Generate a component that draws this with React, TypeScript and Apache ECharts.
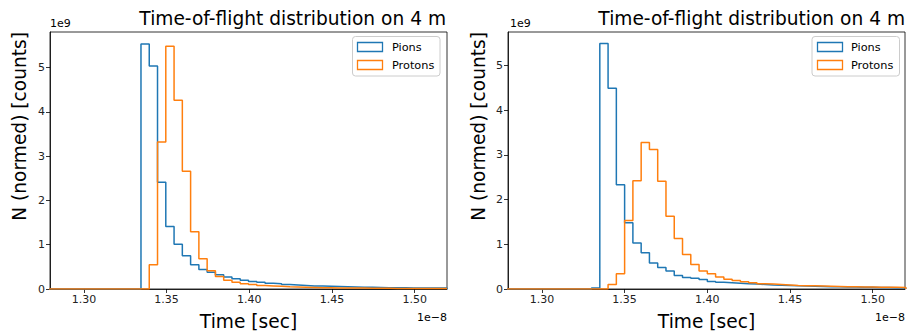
import React, { useEffect, useRef } from "react";
import * as echarts from "echarts";

// Time axis in units of 1e-8 s, counts in units of 1e9
const xTicks = [1.3, 1.35, 1.4, 1.45, 1.5];
const yTicks = [0, 1, 2, 3, 4, 5];
const binWidth = 0.005;

// Left panel
const leftPionStart = 1.3345;
const leftPions = [
  5.53, 5.03, 2.41, 1.41, 1.01, 0.75, 0.55, 0.44, 0.38, 0.32, 0.27, 0.23, 0.2, 0.17, 0.15, 0.13,
  0.12, 0.1, 0.09, 0.08, 0.07, 0.065, 0.06, 0.055, 0.05, 0.045, 0.04, 0.04, 0.035, 0.03, 0.03,
  0.03, 0.025, 0.025, 0.02, 0.02, 0.02,
];
const leftProtonStart = 1.3395;
const leftProtons = [
  0.55, 3.32, 5.48, 4.26, 2.66, 1.29, 0.68, 0.41, 0.28, 0.2, 0.15, 0.12, 0.1, 0.08, 0.07, 0.06,
  0.05, 0.045, 0.04, 0.035, 0.03, 0.03, 0.025, 0.02, 0.02, 0.02, 0.015, 0.015, 0.015, 0.012,
  0.012, 0.01, 0.01, 0.01, 0.01, 0.01,
];

// Right panel
const rightPionStart = 1.33;
const rightPions = [
  0.02, 5.49, 4.49, 2.33, 1.48, 1.03, 0.81, 0.58, 0.48, 0.4, 0.3, 0.26, 0.24, 0.21, 0.17, 0.15,
  0.14, 0.13, 0.12, 0.11, 0.1, 0.09, 0.085, 0.08, 0.07, 0.065, 0.06, 0.055, 0.05, 0.05, 0.045,
  0.045, 0.04, 0.04, 0.035, 0.035, 0.03, 0.03,
];
const rightProtonStart = 1.34;
const rightProtons = [
  0.1, 0.34, 1.53, 2.42, 3.28, 3.12, 2.41, 1.63, 1.13, 0.77, 0.55, 0.4, 0.34, 0.27, 0.22, 0.19,
  0.16, 0.14, 0.12, 0.11, 0.1, 0.09, 0.08, 0.075, 0.07, 0.065, 0.06, 0.055, 0.05, 0.05, 0.045,
  0.045, 0.04, 0.04, 0.04, 0.035,
];

const xMin = 1.2795;
const xMax = 1.5195;
const leftYMax = 5.8;
const rightYMax = 5.75;

const BLUE = "#1f77b4";
const ORANGE = "#ff7f0e";
const FONT = "DejaVu Sans";
const BIG = 18.6;

function stepData(start: number, values: number[]): [number, number][] {
  const pts: [number, number][] = [[xMin - 0.01, 0]];
  values.forEach((v, i) => pts.push([start + i * binWidth, v]));
  const end = start + values.length * binWidth;
  pts.push([end, values[values.length - 1]]);
  pts.push([end, 0]);
  return pts;
}

function axes(gridIndex: number, yMax: number) {
  const x = {
    type: "value",
    gridIndex,
    min: xMin,
    max: xMax,
    axisLine: { show: true, onZero: false, lineStyle: { color: "#000", width: 0.8 } },
    axisTick: { show: true, length: 4, customValues: xTicks, lineStyle: { color: "#000", width: 0.8 } },
    axisLabel: {
      customValues: xTicks,
      formatter: (v: number) => v.toFixed(2),
      fontSize: 11,
      fontFamily: FONT,
      color: "#222",
      margin: 5,
    },
    splitLine: { show: false },
  };
  const y = {
    type: "value",
    gridIndex,
    min: 0,
    max: yMax,
    axisLine: { show: true, lineStyle: { color: "#000", width: 0.8 } },
    axisTick: { show: true, length: 4, customValues: yTicks, lineStyle: { color: "#000", width: 0.8 } },
    axisLabel: {
      customValues: yTicks,
      formatter: (v: number) => String(v),
      fontSize: 11,
      fontFamily: FONT,
      color: "#222",
      margin: 5,
    },
    splitLine: { show: false },
  };
  return { x, y };
}

function txt(text: string, x: number, y: number, size: number, align: string, extra: any = {}) {
  return {
    type: "text",
    x,
    y,
    ...extra,
    style: {
      text,
      fontSize: size,
      fontFamily: FONT,
      fill: "#000",
      textAlign: align,
      textVerticalAlign: "middle",
    },
  };
}

function legend(boxX: number, patchX: number, textX: number) {
  return [
    {
      type: "rect",
      shape: { x: boxX, y: 36.5, width: 87.5, height: 39.5, r: 3 },
      style: { fill: "rgba(255,255,255,0.8)", stroke: "#cccccc", lineWidth: 1 },
      z: 100,
    },
    {
      type: "rect",
      shape: { x: patchX, y: 42.5, width: 25, height: 9 },
      style: { fill: "none", stroke: BLUE, lineWidth: 1.3 },
      z: 101,
    },
    {
      type: "rect",
      shape: { x: patchX, y: 60.5, width: 25, height: 9 },
      style: { fill: "none", stroke: ORANGE, lineWidth: 1.3 },
      z: 101,
    },
    { ...txt("Pions", textX, 47.5, 11.3, "left"), z: 101 },
    { ...txt("Protons", textX, 65.5, 11.3, "left"), z: 101 },
  ];
}

export default function App() {
  const ref = useRef<HTMLDivElement>(null);
  useEffect(() => {
    document.body.style.margin = "0";
    if (!ref.current) return;
    const chart = echarts.init(ref.current, null, { renderer: "svg" });
    const a0 = axes(0, leftYMax);
    const a1 = axes(1, rightYMax);
    const lineSeries = (name: string, xi: number, data: [number, number][], color: string) => ({
      name,
      type: "line",
      xAxisIndex: xi,
      yAxisIndex: xi,
      step: "end",
      showSymbol: false,
      symbol: "none",
      clip: true,
      data,
      lineStyle: { color, width: 1.5 },
      itemStyle: { color },
    });
    chart.setOption({
      animation: false,
      backgroundColor: "#fff",
      grid: [
        { left: 50, top: 32, width: 397, height: 257, show: true, borderColor: "#000", borderWidth: 0.8, containLabel: false },
        { left: 508, top: 32, width: 397, height: 257, show: true, borderColor: "#000", borderWidth: 0.8, containLabel: false },
      ],
      xAxis: [a0.x, a1.x],
      yAxis: [a0.y, a1.y],
      series: [
        lineSeries("Pions", 0, stepData(leftPionStart, leftPions), BLUE),
        lineSeries("Protons", 0, stepData(leftProtonStart, leftProtons), ORANGE),
        lineSeries("Pions", 1, stepData(rightPionStart, rightPions), BLUE),
        lineSeries("Protons", 1, stepData(rightProtonStart, rightProtons), ORANGE),
      ],
      graphic: [
        txt("Time-of-flight distribution on 4 m", 446, 18, BIG, "right"),
        txt("Time-of-flight distribution on 4 m", 905, 18, BIG, "right"),
        txt("1e9", 50, 23, 11, "left"),
        txt("1e9", 510, 23, 11, "left"),
        txt("1e\u22128", 447, 317.5, 11, "right"),
        txt("1e\u22128", 905, 317.5, 11, "right"),
        txt("Time [sec]", 248.5, 321.5, BIG, "center"),
        txt("Time [sec]", 706.5, 321.5, BIG, "center"),
        txt("N (normed) [counts]", 19.5, 32, BIG, "right", { rotation: Math.PI / 2 }),
        txt("N (normed) [counts]", 478, 32, BIG, "right", { rotation: Math.PI / 2 }),
        ...legend(352.5, 357.5, 392),
        ...legend(812, 817.5, 851),
      ],
    });
    return () => chart.dispose();
  }, []);
  return <div ref={ref} style={{ width: 907, height: 332 }} />;
}
